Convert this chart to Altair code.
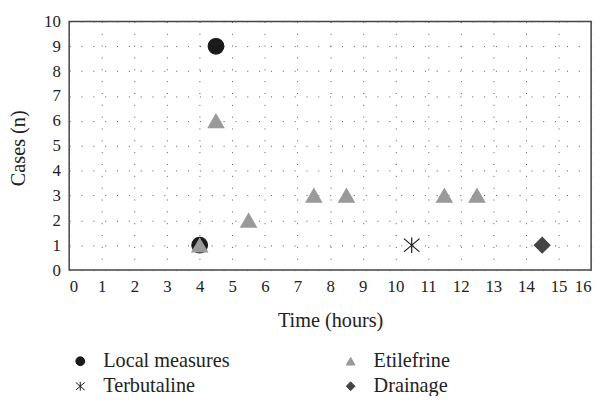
import altair as alt
import pandas as pd

# data
drugs = ["Local measures", "Local measures",
         "Etilefrine", "Etilefrine", "Etilefrine", "Etilefrine", "Etilefrine", "Etilefrine", "Etilefrine",
         "Terbutaline", "Drainage"]
times = [4, 4.5, 4, 4.5, 5.5, 7.5, 8.5, 11.5, 12.5, 10.5, 14.5]
cases = [1, 9, 1, 6, 2, 3, 3, 3, 3, 1, 1]

legend_order = ["Local measures", "Etilefrine", "Terbutaline", "Drainage"]
colors = ["#1a1a1a", "#9a9a9a", "#1a1a1a", "#444444"]
asterisk = "M0,-1L0,1M-1,-0.85L1,0.85M-1,0.85L1,-0.85"
shapes = ["circle", "triangle-up", asterisk, "diamond"]
x_ticks = list(range(0, 17))
y_ticks = list(range(0, 11))

df = pd.DataFrame({"Drug": drugs, "Time": times, "Cases": cases})

FONT = "Liberation Serif"

legend = alt.Legend(
    title=None, orient="none", legendX=1, legendY=334, columns=2,
    direction="horizontal",
    columnPadding=112, rowPadding=4.5, symbolSize=80, symbolStrokeWidth=1,
    labelFont=FONT, labelFontSize=20.5, labelColor="#222222", labelOffset=13,
    padding=0, labelLimit=300,
)

chart = alt.Chart(df).mark_point(filled=True, opacity=1, strokeWidth=1.2, size=250).encode(
    x=alt.X("Time:Q", scale=alt.Scale(domain=[0, 16], nice=False),
            axis=alt.Axis(values=x_ticks, title="Time (hours)", grid=True, gridDash=[1, 11],
                          gridColor="#555555", gridWidth=1, domain=False, ticks=False, tickSize=0,
                          labelPadding=9, labelFont=FONT, labelFontSize=17, labelColor="#222222",
                          titleFont=FONT, titleFontSize=20.5, titleFontWeight="normal",
                          titleColor="#222222", titleY=51, titleBaseline="middle")),
    y=alt.Y("Cases:Q", scale=alt.Scale(domain=[0, 10], nice=False),
            axis=alt.Axis(values=y_ticks, title="Cases (n)", grid=True, gridDash=[1, 11],
                          gridColor="#555555", gridWidth=1, domain=False, ticks=False, tickSize=0,
                          labelPadding=9, labelFont=FONT, labelFontSize=17, labelColor="#222222",
                          titleFont=FONT, titleFontSize=20.5, titleFontWeight="normal",
                          titleColor="#222222", titleX=-45, titleY=128, titleAngle=270,
                          titleBaseline="alphabetic")),
    shape=alt.Shape("Drug:N", scale=alt.Scale(domain=legend_order, range=shapes), legend=legend),
    fill=alt.Fill("Drug:N", scale=alt.Scale(domain=legend_order, range=colors), legend=legend),
    stroke=alt.Stroke("Drug:N", scale=alt.Scale(domain=legend_order, range=colors), legend=legend),
).properties(
    width=529, height=252,
    padding={"left": 62, "top": 11, "right": 10, "bottom": 125},
    autosize=alt.AutoSizeParams(type="none"),
).configure(
    background="white", font=FONT
).configure_axis(
    labelFont=FONT, titleFont=FONT
).configure_view(
    stroke="#444444", strokeWidth=1.5
)

chart.save("out.html", embed_options={"renderer": "svg", "actions": False})
